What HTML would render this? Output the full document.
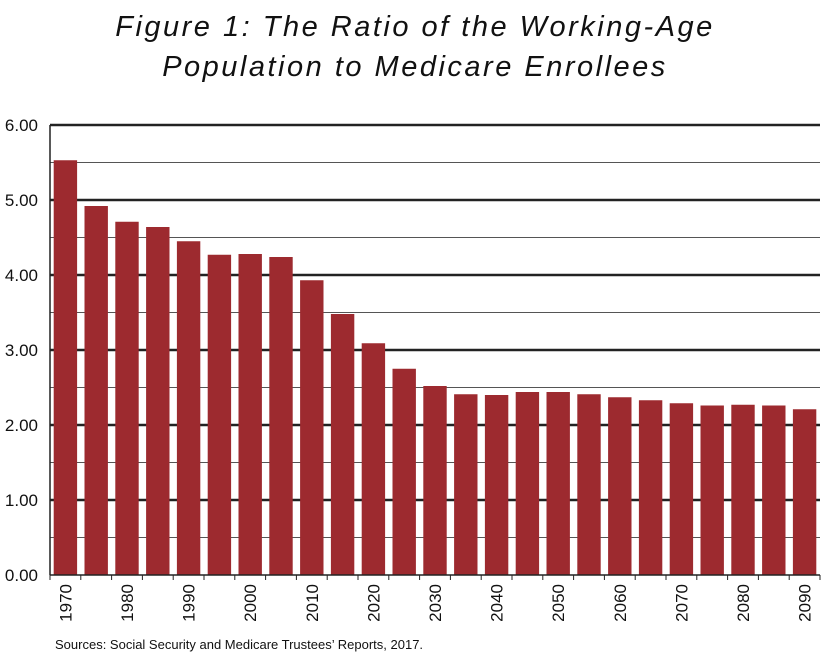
<!DOCTYPE html>
<html><head><meta charset="utf-8"><style>
body{margin:0;background:#fff;}
svg{display:block;font-family:"Liberation Sans",Arial,sans-serif;}
</style></head><body>
<svg id="chart" width="825" height="656">
<text x="415" y="36" text-anchor="middle" font-size="29" font-style="italic" letter-spacing="2.5" fill="#111">Figure 1: The Ratio of the Working-Age</text>
<text x="415" y="76" text-anchor="middle" font-size="29" font-style="italic" letter-spacing="2.5" fill="#111">Population to Medicare Enrollees</text>
<g id="grid"></g><g id="bars"></g><g id="axes"></g>
<text x="55" y="649" font-size="13" fill="#111">Sources: Social Security and Medicare Trustees’ Reports, 2017.</text>
</svg>
<script>
const years=[1970,1975,1980,1985,1990,1995,2000,2005,2010,2015,2020,2025,2030,2035,2040,2045,2050,2055,2060,2065,2070,2075,2080,2085,2090];
const ratios=[5.53,4.92,4.71,4.64,4.45,4.27,4.28,4.24,3.93,3.48,3.09,2.75,2.52,2.41,2.40,2.44,2.44,2.41,2.37,2.33,2.29,2.26,2.27,2.26,2.21];
const yTicks=[0,1,2,3,4,5,6];
const yTickLabels=["0.00","1.00","2.00","3.00","4.00","5.00","6.00"];
const xLabelYears=[1970,1980,1990,2000,2010,2020,2030,2040,2050,2060,2070,2080,2090];
const NS="http://www.w3.org/2000/svg";
const x0=50,x1=820,yZero=575,yTop=125,yMax=6;
const step=(x1-x0)/years.length;
const y=v=>yZero-(v/yMax)*(yZero-yTop);
const xc=i=>x0+step*(i+0.5);
function mk(tag,attrs,parent){const e=document.createElementNS(NS,tag);for(const k in attrs)e.setAttribute(k,attrs[k]);parent.appendChild(e);return e;}
const grid=document.getElementById('grid'),bars=document.getElementById('bars'),axes=document.getElementById('axes');
for(let v=0.5;v<=yMax;v+=0.5){
  const major=Math.abs(v-Math.round(v))<1e-9;
  const l=mk('line',{x1:x0,x2:x1,y1:y(v),y2:y(v),stroke:major?'#222':'#555','stroke-width':major?2.5:1},grid);
  
  
}
yTicks.forEach((v,i)=>{
  const t=mk('text',{x:38,y:y(v)+6,'text-anchor':'end','font-size':17,fill:'#111'},axes);
  t.textContent=yTickLabels[i];
  
  
});
ratios.forEach((v,i)=>{
  const r=mk('rect',{x:xc(i)-11.7,y:y(v),width:23.4,height:yZero-y(v),fill:'#9d2a2f'},bars);
  
  
});
const ax=mk('line',{x1:x0,x2:x0,y1:yTop,y2:yZero,stroke:'#222','stroke-width':1.5},axes);


const bx=mk('line',{x1:x0,x2:x1,y1:yZero,y2:yZero,stroke:'#222','stroke-width':1.5},axes);


for(let i=0;i<=years.length;i++){
  const t=mk('line',{x1:x0+step*i,x2:x0+step*i,y1:yZero,y2:yZero+5,stroke:'#222','stroke-width':1},axes);
  
  
}
xLabelYears.forEach(yr=>{
  const i=years.indexOf(yr);
  const cx=xc(i)+6,cy=584;
  const t=mk('text',{x:cx,y:cy,'text-anchor':'end','font-size':17,fill:'#111',transform:`rotate(-90 ${cx} ${cy})`},axes);
  t.textContent=yr;
  
  
});
</script>
</body></html>
